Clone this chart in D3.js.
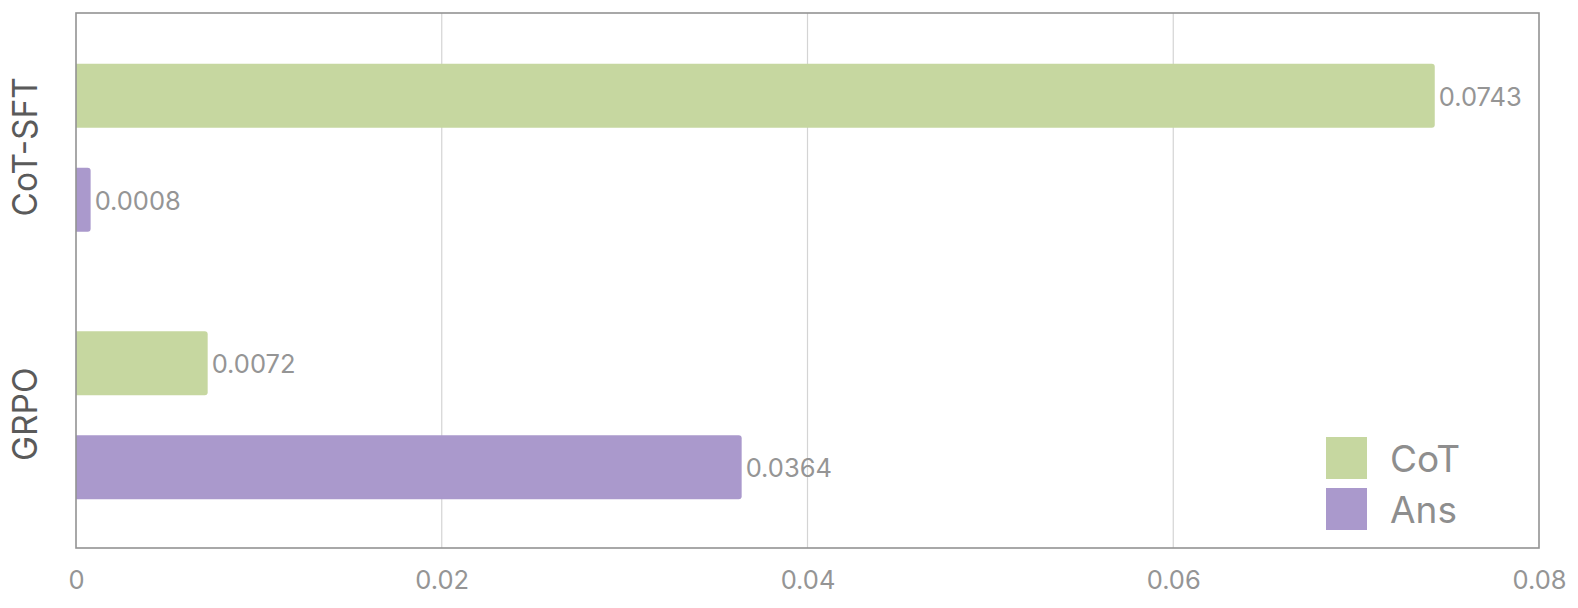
<!DOCTYPE html>
<html><head><meta charset="utf-8">
<script src="https://cdn.jsdelivr.net/npm/d3@7"></script>
<style>body{margin:0;background:#fff}svg{display:block}text{font-family:Inter,"Open Sans",sans-serif}</style>
</head><body>
<script>
const categories = ["CoT-SFT", "GRPO"];
const series = ["CoT", "Ans"];
const cotValues = [0.0743, 0.0072];
const ansValues = [0.0008, 0.0364];
const xTicks = [0, 0.02, 0.04, 0.06, 0.08];
const xTickLabels = ["0", "0.02", "0.04", "0.06", "0.08"];
const colors = {CoT: "#c6d7a0", Ans: "#aa99cc"};

const W = 1578, H = 608;
const m = {left: 76, right: 39, top: 13, bottom: 60};
const svg = d3.select("body").append("svg").attr("width", W).attr("height", H);

const x = d3.scaleLinear().domain([0, 0.08]).range([m.left, W - m.right]);
const y0 = d3.scaleBand().domain(categories).range([m.top, H - m.bottom]).padding(0);
const y1 = d3.scaleBand().domain(series).range([0, y0.bandwidth()]).paddingInner(0.385).paddingOuter(0.478);

// gridlines
svg.append("g").selectAll("line").data(xTicks.slice(1, -1)).join("line")
  .attr("x1", d => x(d)).attr("x2", d => x(d))
  .attr("y1", m.top).attr("y2", H - m.bottom)
  .attr("stroke", "#d4d4d4").attr("stroke-width", 1.2);

const data = [];
categories.forEach((c, i) => {
  data.push({cat: c, s: "CoT", v: cotValues[i]});
  data.push({cat: c, s: "Ans", v: ansValues[i]});
});

function barPath(x0, x1v, yt, h, r) {
  const w = x1v - x0;
  r = Math.min(r, w / 2, h / 2);
  return `M${x0},${yt}H${x1v - r}Q${x1v},${yt} ${x1v},${yt + r}V${yt + h - r}Q${x1v},${yt + h} ${x1v - r},${yt + h}H${x0}Z`;
}

svg.append("g").selectAll("path").data(data).join("path")
  .attr("d", d => barPath(x(0), x(d.v), y0(d.cat) + y1(d.s) + 1, y1.bandwidth(), 3))
  .attr("fill", d => colors[d.s]);

svg.append("g").selectAll("text").data(data).join("text")
  .attr("x", d => x(d.v) + 4)
  .attr("y", d => y0(d.cat) + y1(d.s) + y1.bandwidth() / 2 + 1)
  .attr("dy", "0.4em")
  .attr("font-size", 25.5).attr("fill", "#959595")
  .text(d => d.v.toFixed(4));

// frame
svg.append("rect").attr("x", m.left).attr("y", m.top)
  .attr("width", W - m.left - m.right).attr("height", H - m.top - m.bottom)
  .attr("fill", "none").attr("stroke", "#939393").attr("stroke-width", 1.6);

// x axis
const xAxis = d3.axisBottom(x).tickValues(xTicks).tickFormat((d, i) => xTickLabels[i]).tickSize(0).tickPadding(23);
const gx = svg.append("g").attr("transform", `translate(0,${H - m.bottom})`).call(xAxis);
gx.select(".domain").remove();
gx.selectAll("text").attr("font-size", 25.5).attr("fill", "#959595").attr("font-family", "Inter,'Open Sans',sans-serif");

// y category labels
svg.append("g").selectAll("text").data(categories).join("text")
  .attr("transform", d => `translate(37,${y0(d) + y0.bandwidth() / 2}) rotate(-90)`)
  .attr("text-anchor", "middle")
  .attr("font-size", 33.5).attr("fill", "#5a5a5a")
  .text(d => d);

// legend
const lg = svg.append("g").attr("transform", "translate(1326,437)");
series.forEach((s, i) => {
  lg.append("rect").attr("x", 0).attr("y", i * 51).attr("width", 41).attr("height", 42).attr("fill", colors[s]);
  lg.append("text").attr("x", 64).attr("y", i * 51 + 21).attr("dy", "0.37em")
    .attr("font-size", 37).attr("fill", "#8e8e8e").text(s);
});
</script>
</body></html>
